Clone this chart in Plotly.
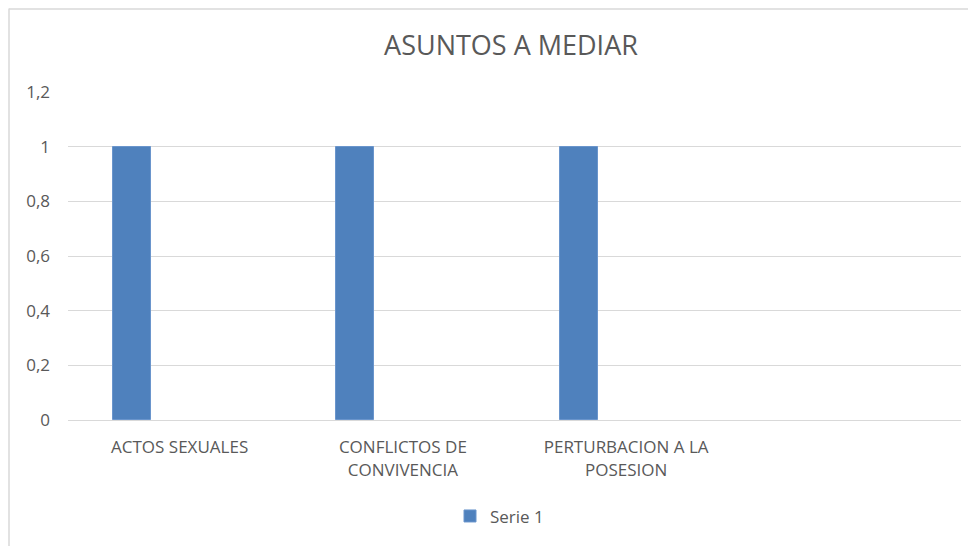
import plotly.graph_objects as go

categories = ["ACTOS SEXUALES", "CONFLICTOS DE<br>CONVIVENCIA", "PERTURBACION A LA<br>POSESION", " "]
serie1 = [1, 1, 1, None]
y_ticks = [0, 0.2, 0.4, 0.6, 0.8, 1, 1.2]
y_tick_labels = ["0", "0,2", "0,4", "0,6", "0,8", "1", "1,2"]

# page body has an 8px margin, so the figure is laid out 8px in from the window edge
W, H = 968, 538
L, R, T, B = 60, 15, 84, 124
pw = W - L - R
ph = H - T - B

FONT = "Open Sans, Noto Sans, sans-serif"
GREY = "#595959"

fig = go.Figure()
fig.add_trace(go.Bar(
    x=categories, y=serie1, name="Serie 1",
    width=0.17, offset=-0.298,
    marker=dict(color="#4F81BD", line=dict(color="#6A95CC", width=1)),
))

fig.update_layout(
    width=W, height=H,
    margin=dict(l=L, r=R, t=T, b=B),
    paper_bgcolor="white", plot_bgcolor="white",
    font=dict(family=FONT, color=GREY, size=17),
    title=dict(text="ASUNTOS A MEDIAR", x=503 / W, xanchor="center", y=1 - 38 / H, yanchor="middle",
               font=dict(size=27, color=GREY, family=FONT)),
    showlegend=True,
    legend=dict(orientation="h", x=(442 - L) / pw, xanchor="left", y=-(511 - (H - B)) / ph, yanchor="middle",
                font=dict(size=17, color=GREY), itemwidth=30),
    bargap=0,
    xaxis=dict(type="category", showgrid=False, showline=True, linecolor="#D9D9D9", linewidth=1,
               ticks="", ticklabelstandoff=12, tickfont=dict(size=17, color=GREY), fixedrange=True),
    yaxis=dict(range=[0, 1.2], tickvals=y_ticks, ticktext=y_tick_labels, showgrid=True,
               gridcolor="#D9D9D9", gridwidth=1, zeroline=False, showline=False,
               ticks="", ticklabelstandoff=17, tickfont=dict(size=17, color=GREY)),
    shapes=[
        dict(type="line", xref="paper", yref="paper",
             x0=(1 - L) / pw, x1=(W + 5 - L) / pw,
             y0=(H - B - 0.5) / ph, y1=(H - B - 0.5) / ph, line=dict(color="#D9D9D9", width=1.5)),
        dict(type="line", xref="paper", yref="paper",
             x0=(1 - L) / pw, x1=(1 - L) / pw,
             y0=(H - B) / ph, y1=-(B + 5) / ph, line=dict(color="#D9D9D9", width=1.5)),
    ],
)

fig.write_html("out.html")
